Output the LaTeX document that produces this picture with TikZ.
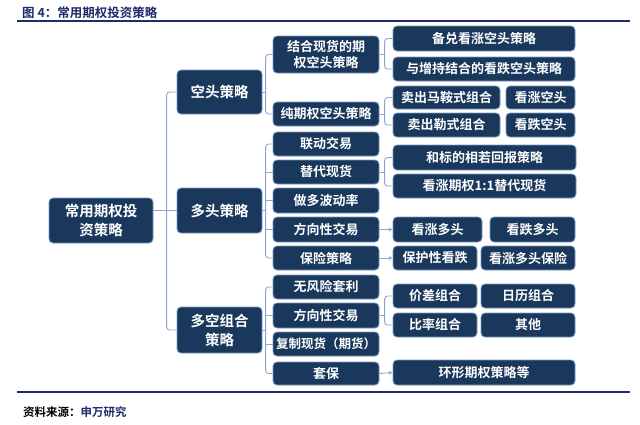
\documentclass[tikz,border=0pt]{standalone}
\usepackage{fontspec}
\setmainfont{Noto Sans CJK SC}[BoldFont={Noto Sans CJK SC Bold}]
\usetikzlibrary{arrows.meta}
\definecolor{navy}{HTML}{1A375C}
\definecolor{edgec}{HTML}{7D9CC4}
\definecolor{linec}{HTML}{8AA8CF}
\definecolor{titlec}{HTML}{1F2B6B}
\tikzset{
  box/.style={draw=edgec, line width=0.8pt, fill=navy, rounded corners=4pt, text=white,
    inner sep=0pt, align=center, font=\fontsize{13}{16.5}\selectfont\bfseries},
  smallbox/.style={box, font=\fontsize{12.5}{16}\selectfont\bfseries},
  bigbox/.style={box, font=\fontsize{14.5}{19}\selectfont\bfseries},
  conn/.style={draw=linec, line width=0.9pt, rounded corners=3pt},
  arr/.style={conn, -{Stealth[length=4pt,width=4pt]}},
  rule/.style={draw=titlec, line width=1.4pt}
}
\newcommand\bx[7][box]{\node[#1, minimum width={(#5-#3)*1pt}, minimum height={(#6-#4)*1pt}] (#2) at ({(#3+#5)/2},{(#4+#6)/2}) {#7};}
\begin{document}
\begin{tikzpicture}[x=1pt,y=-1pt]
\path[fill=white] (0,0) rectangle (640,424);
\useasboundingbox (0,0) rectangle (640,424);
% title and rules
\node[anchor=west, text=titlec, font=\fontsize{12.5}{14}\selectfont\bfseries, inner sep=0pt] (title) at (22,13) {图 4：常用期权投资策略};
\coordinate (r1a) at (17,21); \coordinate (r1b) at (630,21);
\draw[rule] (r1a) -- (r1b);
\coordinate (r2a) at (17,392); \coordinate (r2b) at (630,392);
\draw[rule] (r2a) -- (r2b);
\node[anchor=west, font=\fontsize{11.5}{13}\selectfont\bfseries, inner sep=0pt] (foot) at (23,412) {资料来源：\textcolor{titlec}{申万研究}};
% root and level 1
\bx[bigbox]{root}{49}{198}{153}{243}{常用期权投\\资策略}
\bx[bigbox]{La}{177}{70}{262}{114}{空头策略}
\bx[bigbox]{Lb}{177}{188}{262}{233}{多头策略}
\bx[bigbox]{Lc}{177}{307}{262}{353}{多空组合\\策略}
% level 2
\bx{A1}{273}{36}{379}{73}{结合现货的期\\权空头策略}
\bx{A2}{273}{102}{379}{126}{纯期权空头策略}
\bx{B1}{273}{132}{379}{156}{联动交易}
\bx{B2}{273}{160}{379}{184}{替代现货}
\bx{B3}{273}{188}{379}{213}{做多波动率}
\bx{B4}{273}{217}{379}{242}{方向性交易}
\bx{B5}{273}{246}{379}{270}{保险策略}
\bx{C1}{273}{275}{379}{299}{无风险套利}
\bx{C2}{273}{303}{379}{328}{方向性交易}
\bx[smallbox]{C3}{273}{332}{379}{356}{复制现货（期货）}
\bx{C4}{273}{362}{379}{385}{套保}
% level 3
\bx{A1a}{393}{26}{575}{51}{备兑看涨空头策略}
\bx{A1b}{393}{57}{575}{81}{与增持结合的看跌空头策略}
\bx{A2a}{393}{86}{500}{109}{卖出马鞍式组合}
\bx{A2x}{506}{86}{575}{109}{看涨空头}
\bx{A2b}{393}{113}{500}{137}{卖出勒式组合}
\bx{A2y}{506}{113}{575}{137}{看跌空头}
\bx{B2a}{393}{145}{576}{170}{和标的相若回报策略}
\bx{B2b}{393}{174}{576}{198}{看涨期权1:1替代现货}
\bx{B4a}{393}{217}{482}{242}{看涨多头}
\bx{B4b}{490}{217}{575}{242}{看跌多头}
\bx{B5a}{393}{246}{477}{270}{保护性看跌}
\bx{B5b}{481}{246}{575}{270}{看涨多头保险}
\bx{C2a}{393}{284}{477}{308}{价差组合}
\bx{C2b}{481}{284}{575}{308}{日历组合}
\bx{C2c}{393}{313}{477}{337}{比率组合}
\bx{C2d}{481}{313}{575}{337}{其他}
\bx{C4a}{393}{360}{575}{385}{环形期权策略等}
% connectors: root -> level 1
\draw[conn] (root.east |- Lb.west) -- (Lb.west);
\draw[conn] (La.west) -- ++(-10,0) |- (Lc.west);
% level 1 -> level 2
\draw[conn] (La.east) -- ++(4,0);
\draw[conn] (A1.west) -- ++(-7,0) |- (A2.west);
\draw[conn] (Lb.east) -- ++(4,0);
\draw[conn] (B1.west) -- ++(-7,0) |- (B5.west);
\draw[conn] (B2.west) -- ++(-7,0);
\draw[conn] (B3.west) -- ++(-7,0);
\draw[conn] (B4.west) -- ++(-7,0);
\draw[conn] (Lc.east) -- ++(4,0);
\draw[conn] (C1.west) -- ++(-7,0) |- (C4.west);
\draw[conn] (C2.west) -- ++(-7,0);
\draw[conn] (C3.west) -- ++(-7,0);
% level 2 -> level 3
\draw[conn] (A1.east) -- ++(6,0);
\draw[conn] (A1a.west) -- ++(-8,0) |- (A1b.west);
\draw[conn] (A2.east) -- ++(6,0);
\draw[conn] (A2a.west) -- ++(-8,0) |- (A2b.west);
\draw[conn] (B2.east) -- ++(6,0);
\draw[conn] (B2a.west) -- ++(-8,0) |- (B2b.west);
\draw[conn] (C2.east) -- ++(6,0);
\draw[conn] (C2a.west) -- ++(-8,0) |- (C2c.west);
\draw[arr] (B4.east) -- (B4a.west);
\draw[arr] (B5.east) -- (B5a.west);
\draw[arr] (C4.east) -- (C4a.west);
\end{tikzpicture}
\end{document}
